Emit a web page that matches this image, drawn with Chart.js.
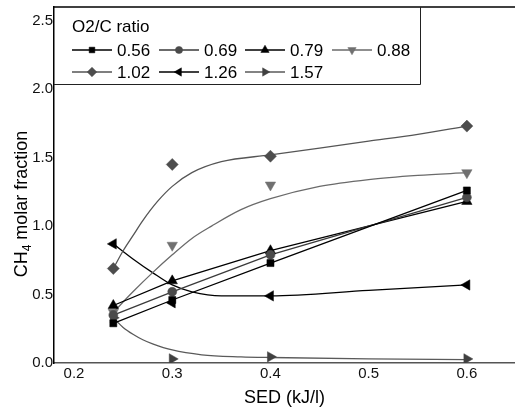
<!DOCTYPE html>
<html>
<head>
<meta charset="utf-8">
<script src="https://cdn.jsdelivr.net/npm/chart.js@4/dist/chart.umd.min.js"></script>
<style>
  html, body { margin: 0; padding: 0; background: #fff; }
  #wrap { width: 515px; height: 410px; }
</style>
</head>
<body>
<div id="wrap"><canvas id="c" width="515" height="410"></canvas></div>
<script>
// Specific energy density (kJ/l) at which samples were taken
const sed = [0.24, 0.30, 0.40, 0.60];

// O2/C ratios
const ratioLabels = ['0.56', '0.69', '0.79', '0.88', '1.02', '1.26', '1.57'];

// Measured CH4 molar fraction for each O2/C ratio
const ch4_r056 = [0.29, 0.46, 0.73, 1.26];
const ch4_r069 = [0.35, 0.52, 0.79, 1.21];
const ch4_r079 = [0.42, 0.60, 0.82, 1.18];
const ch4_r088 = [0.37, 0.86, 1.30, 1.39];
const ch4_r102 = [0.69, 1.45, 1.51, 1.73];
const ch4_r126 = [0.87, 0.44, 0.49, 0.57];
const ch4_r157 = [0.33, 0.03, 0.045, 0.03];

// Fitted trend curves (SED, CH4) for the non-linear series
const fit088_x = [0.24, 0.26, 0.28, 0.30, 0.32, 0.34, 0.37, 0.40, 0.45, 0.50, 0.55, 0.60];
const fit088_y = [0.37, 0.52, 0.66, 0.79, 0.91, 1.00, 1.12, 1.20, 1.29, 1.34, 1.37, 1.39];
const fit102_x = [0.24, 0.25, 0.26, 0.27, 0.285, 0.30, 0.32, 0.35, 0.40, 0.45, 0.50, 0.55, 0.60];
const fit102_y = [0.69, 0.82, 0.93, 1.04, 1.18, 1.29, 1.39, 1.47, 1.52, 1.57, 1.62, 1.67, 1.73];
const fit126_x = [0.24, 0.26, 0.28, 0.30, 0.32, 0.35, 0.40, 0.50, 0.60];
const fit126_y = [0.87, 0.76, 0.66, 0.57, 0.52, 0.49, 0.49, 0.53, 0.57];
const fit157_x = [0.24, 0.25, 0.26, 0.27, 0.28, 0.30, 0.33, 0.37, 0.40, 0.50, 0.60];
const fit157_y = [0.33, 0.26, 0.21, 0.17, 0.14, 0.095, 0.06, 0.045, 0.04, 0.03, 0.025];

// Axis ticks
const xTicks = [0.2, 0.3, 0.4, 0.5, 0.6];
const yTicks = [0.0, 0.5, 1.0, 1.5, 2.0, 2.5];

const FONT = "'Liberation Sans', Arial, sans-serif";

const zip = (xs, ys) => xs.map((x, i) => ({ x: x, y: ys[i] }));

// Appearance of each series: marker shape and colours
const series = [
  { label: ratioLabels[0], values: ch4_r056, fitX: sed, fitY: ch4_r056, color: '#000000', line: '#000000', style: 'rect', radius: 5, rot: 0 },
  { label: ratioLabels[1], values: ch4_r069, fitX: sed, fitY: ch4_r069, color: '#4a4a4a', line: '#3a3a3a', style: 'circle', radius: 4.5, rot: 0 },
  { label: ratioLabels[2], values: ch4_r079, fitX: sed, fitY: ch4_r079, color: '#000000', line: '#000000', style: 'triangle', radius: 6, rot: 0 },
  { label: ratioLabels[3], values: ch4_r088, fitX: fit088_x, fitY: fit088_y, color: '#707070', line: '#6a6a6a', style: 'triangle', radius: 6, rot: 180 },
  { label: ratioLabels[4], values: ch4_r102, fitX: fit102_x, fitY: fit102_y, color: '#4d4d4d', line: '#555555', style: 'rectRot', radius: 6, rot: 0 },
  { label: ratioLabels[5], values: ch4_r126, fitX: fit126_x, fitY: fit126_y, color: '#000000', line: '#000000', style: 'triangle', radius: 6, rot: -90 },
  { label: ratioLabels[6], values: ch4_r157, fitX: fit157_x, fitY: fit157_y, color: '#404040', line: '#5a5a5a', style: 'triangle', radius: 6, rot: 90 }
];

const datasets = [];
series.forEach(s => {
  datasets.push({
    label: s.label + ' fit',
    data: zip(s.fitX, s.fitY),
    showLine: true,
    borderColor: s.line,
    borderWidth: 1.3,
    pointRadius: 0,
    cubicInterpolationMode: s.fitX === sed ? 'default' : 'monotone',
    tension: 0,
    order: 2
  });
});
series.forEach(s => {
  datasets.push({
    label: s.label,
    data: zip(sed, s.values),
    showLine: false,
    pointStyle: s.style,
    pointRotation: s.rot,
    pointRadius: s.radius,
    pointBackgroundColor: s.color,
    pointBorderColor: s.color,
    pointBorderWidth: 0.5,
    order: 1
  });
});

// Frame, axis titles and the boxed legend
const decor = {
  id: 'decor',
  afterDraw(chart) {
    const ctx = chart.ctx;
    const a = chart.chartArea;
    ctx.save();

    // top frame line
    ctx.strokeStyle = '#000';
    ctx.lineWidth = 1.5;
    ctx.beginPath();
    ctx.moveTo(a.left, a.top);
    ctx.lineTo(a.right, a.top);
    ctx.stroke();

    // x axis title
    ctx.fillStyle = '#000';
    ctx.font = '18px ' + FONT;
    ctx.textAlign = 'center';
    ctx.textBaseline = 'middle';
    ctx.fillText('SED (kJ/l)', (a.left + a.right) / 2, 398);

    // y axis title with subscript
    ctx.save();
    ctx.translate(27, 204);
    ctx.rotate(-Math.PI / 2);
    ctx.textBaseline = 'alphabetic';
    ctx.textAlign = 'left';
    const big = '18px ' + FONT, small = '12px ' + FONT;
    ctx.font = big; const w1 = ctx.measureText('CH').width;
    ctx.font = small; const w2 = ctx.measureText('4').width;
    ctx.font = big; const w3 = ctx.measureText(' molar fraction').width;
    let x0 = -(w1 + w2 + w3) / 2;
    ctx.font = big; ctx.fillText('CH', x0, 0);
    ctx.font = small; ctx.fillText('4', x0 + w1, 4);
    ctx.font = big; ctx.fillText(' molar fraction', x0 + w1 + w2, 0);
    ctx.restore();

    // legend box
    const bx = a.left, by = a.top, bw = 366, bh = 77;
    ctx.fillStyle = '#fff';
    ctx.fillRect(bx + 1, by + 1, bw - 1, bh - 1);
    ctx.strokeStyle = '#222';
    ctx.lineWidth = 1;
    ctx.beginPath();
    ctx.moveTo(bx, by + bh + 0.5);
    ctx.lineTo(bx + bw + 0.5, by + bh + 0.5);
    ctx.lineTo(bx + bw + 0.5, by);
    ctx.stroke();

    ctx.fillStyle = '#000';
    ctx.font = '17px ' + FONT;
    ctx.textAlign = 'left';
    ctx.textBaseline = 'middle';
    ctx.fillText('O2/C ratio', 72, 27);

    const cols = [72, 159, 245, 332];
    const rows = [50, 72];
    series.forEach((s, i) => {
      const cx = cols[i % 4], cy = rows[Math.floor(i / 4)];
      ctx.strokeStyle = s.line;
      ctx.lineWidth = 1.3;
      ctx.beginPath();
      ctx.moveTo(cx, cy);
      ctx.lineTo(cx + 40, cy);
      ctx.stroke();
      ctx.fillStyle = s.color;
      ctx.strokeStyle = s.color;
      ctx.lineWidth = 0.5;
      Chart.helpers.drawPoint(ctx, { pointStyle: s.style, radius: s.radius * 0.8, rotation: s.rot, borderWidth: 0.5 }, cx + 20, cy);
      ctx.fillStyle = '#000';
      ctx.fillText(s.label, cx + 45, cy + 1);
    });

    ctx.restore();
  }
};

new Chart(document.getElementById('c'), {
  type: 'scatter',
  data: { datasets: datasets },
  options: {
    responsive: false,
    devicePixelRatio: 1,
    animation: false,
    layout: { autoPadding: false, padding: { top: 7, right: 0, left: 0, bottom: 0 } },
    plugins: { legend: { display: false }, tooltip: { enabled: false } },
    scales: {
      x: {
        type: 'linear',
        min: 0.1796,
        max: 0.649,
        afterBuildTicks: sc => { sc.ticks = xTicks.map(v => ({ value: v })); },
        afterFit: sc => { sc.height = 47; sc.paddingLeft = 0; sc.paddingRight = 0; },
        grid: { display: false, drawTicks: false },
        border: { display: true, color: '#555', width: 1.5 },
        ticks: {
          padding: 2,
          color: '#111',
          font: { family: FONT, size: 15 },
          callback: v => v.toFixed(1)
        }
      },
      y: {
        type: 'linear',
        min: 0,
        max: 2.6,
        afterBuildTicks: sc => { sc.ticks = yTicks.map(v => ({ value: v })); },
        afterFit: sc => { sc.width = 54; sc.paddingTop = 0; sc.paddingBottom = 0; },
        grid: { display: false, drawTicks: false },
        border: { display: true, color: '#000', width: 1.5 },
        ticks: {
          padding: 1,
          color: '#111',
          font: { family: FONT, size: 15 },
          callback: v => v.toFixed(1)
        }
      }
    }
  },
  plugins: [decor]
});
</script>
</body>
</html>
